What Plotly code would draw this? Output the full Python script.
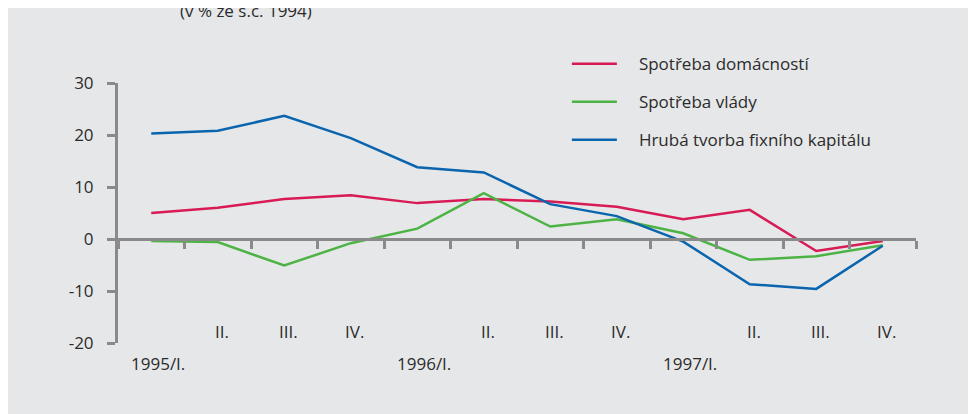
import plotly.graph_objects as go

quarters = ["1995/I.", "II.", "III.", "IV.", "1996/I.", "II.", "III.", "IV.", "1997/I.", "II.", "III.", "IV."]
domacnosti = [5.0, 6.0, 7.7, 8.4, 6.9, 7.7, 7.2, 6.2, 3.8, 5.6, -2.3, -0.4]
vlady = [-0.4, -0.6, -5.1, -0.8, 2.0, 8.8, 2.4, 3.8, 1.1, -4.0, -3.3, -1.2]
kapital = [20.3, 20.8, 23.7, 19.4, 13.8, 12.8, 6.7, 4.4, -0.5, -8.7, -9.6, -1.3]
series_names = ["Spotřeba domácností", "Spotřeba vlády", "Hrubá tvorba fixního kapitálu"]
colors = ["#d81b55", "#4cb344", "#0a65ae"]
yticks = [-20, -10, 0, 10, 20, 30]
yticklabels = ["-20", "-10", "0", "10", "20", "30"]

BG = "#e6e7e9"
AX = "#8a8a8a"
FONT = "Open Sans"
TXT = "#2b2b2b"

x = list(range(len(quarters)))
fig = go.Figure()
for i, (name, vals) in enumerate(zip(series_names, [domacnosti, vlady, kapital])):
    fig.add_trace(go.Scatter(x=x, y=vals, mode="lines", name="\u2002\u2002" + name,
                             legendgroup=name, line=dict(color=colors[i], width=2.5)))

# category labels: years on lower row, quarters on upper row
for xi, lab in enumerate(quarters):
    is_year = "/" in lab
    fig.add_annotation(x=xi, y=-20, xref="x", yref="y", text=lab, showarrow=False,
                       yshift=-20 if is_year else 12, xshift=7 if is_year else 4,
                       font=dict(family=FONT, size=17, color=TXT))

fig.add_annotation(x=0.075, y=1.0, xref="paper", yref="paper", yshift=73,
                   text="(v % ze s.c. 1994)", showarrow=False, yanchor="middle",
                   font=dict(family=FONT, size=17, color=TXT))

fig.update_layout(
    width=976, height=414,
    margin=dict(l=110, r=68, t=75, b=79, autoexpand=False),
    paper_bgcolor=BG, plot_bgcolor=BG,
    showlegend=True,
    legend=dict(x=0.5625, y=1.142, xanchor="left", yanchor="top", bgcolor="rgba(0,0,0,0)",
                font=dict(family=FONT, size=17, color=TXT), tracegroupgap=13,
                itemwidth=45),
    xaxis=dict(range=[-0.5, len(quarters) - 0.5], anchor="free", position=0.4,
               showline=True, linecolor=AX, linewidth=3, showgrid=False, zeroline=False,
               tickmode="array", tickvals=[v - 0.5 for v in range(len(quarters) + 1)],
               ticktext=[""] * (len(quarters) + 1), ticks="outside", ticklen=8,
               tickwidth=3, tickcolor=AX),
    yaxis=dict(range=[-20, 30], showline=True, linecolor=AX, linewidth=3,
               showgrid=False, zeroline=False, tickmode="array", tickvals=yticks,
               ticktext=yticklabels, ticks="outside", ticklabelstandoff=10,
               ticklen=8, tickwidth=3, tickcolor=AX,
               tickfont=dict(family=FONT, size=17, color=TXT)),
)
fig.write_html("out.html")
